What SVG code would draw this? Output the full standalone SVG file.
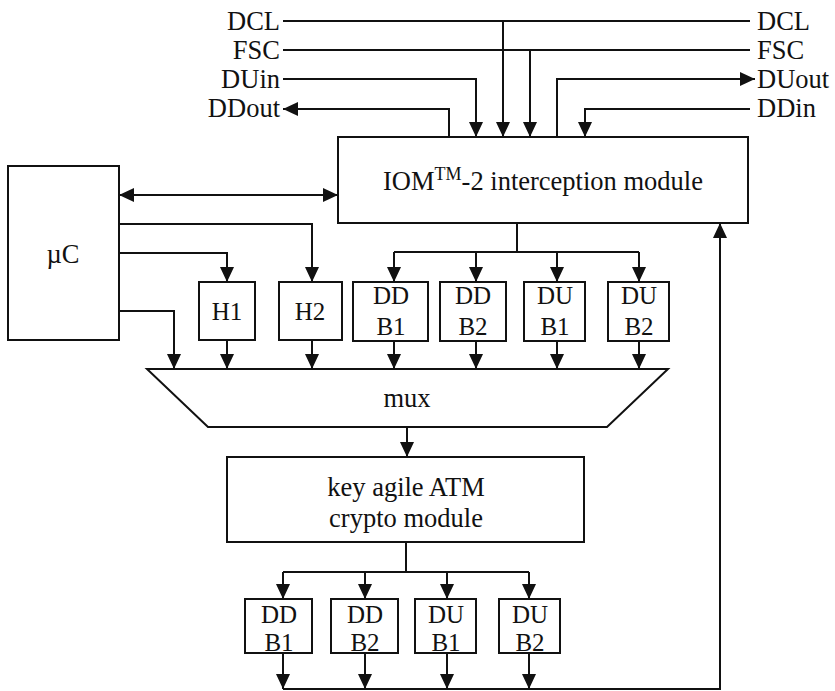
<svg xmlns="http://www.w3.org/2000/svg" width="835" height="691" viewBox="0 0 835 691">
<style>
.box{fill:#fff;stroke:#111;stroke-width:2}
.ln{fill:none;stroke:#111;stroke-width:2}
.arr{marker-end:url(#ah)}
text{font-family:"Liberation Serif","Times New Roman",serif;fill:#111;font-size:26.5px}
.c{text-anchor:middle}
.e{text-anchor:end}
.s{font-size:25px}
</style>
<defs>
<marker id="ah" markerUnits="userSpaceOnUse" markerWidth="15" markerHeight="14" refX="15" refY="7" orient="auto">
<path d="M0,0 L15,7 L0,14 z" fill="#111"/>
</marker>
<marker id="ahs" markerUnits="userSpaceOnUse" markerWidth="15" markerHeight="14" refX="0" refY="7" orient="auto">
<path d="M15,0 L0,7 L15,14 z" fill="#111"/>
</marker>
</defs>

<g id="connectors">
<path class="ln" d="M283,21 H750"/>
<path class="ln arr" d="M503,21 V137"/>
<path class="ln" d="M283,50 H750"/>
<path class="ln arr" d="M530,50 V137"/>
<path class="ln arr" d="M283,79 H476 V137"/>
<path class="ln arr" d="M557,137 V79 H755"/>
<path class="ln arr" d="M449,137 V109 H283"/>
<path class="ln arr" d="M750,109 H585 V137"/>
<path class="ln arr" d="M119,195 H338" marker-start="url(#ahs)"/>
<path class="ln arr" d="M119,224 H312 V282"/>
<path class="ln arr" d="M119,253 H227 V282"/>
<path class="ln arr" d="M119,311 H174 V369"/>
<path class="ln" d="M517,223 V252 M394,252 H639"/>
<path class="ln arr" d="M394,252 V282"/>
<path class="ln arr" d="M476,252 V282"/>
<path class="ln arr" d="M557,252 V282"/>
<path class="ln arr" d="M639,252 V282"/>
<path class="ln arr" d="M227,340 V369"/>
<path class="ln arr" d="M312,340 V369"/>
<path class="ln arr" d="M394,341 V369"/>
<path class="ln arr" d="M476,341 V369"/>
<path class="ln arr" d="M557,341 V369"/>
<path class="ln arr" d="M639,341 V369"/>
<path class="ln arr" d="M407,427 V457"/>
<path class="ln" d="M406,542 V572 M283,572 H529"/>
<path class="ln arr" d="M283,572 V599"/>
<path class="ln arr" d="M365,572 V599"/>
<path class="ln arr" d="M447,572 V599"/>
<path class="ln arr" d="M529,572 V599"/>
<path class="ln arr" d="M283,653 V689"/>
<path class="ln arr" d="M365,653 V689"/>
<path class="ln arr" d="M447,653 V689"/>
<path class="ln arr" d="M529,653 V689"/>
<path class="ln arr" d="M283,689 H720 V223"/>
</g>

<g id="labels">
<text class="e" x="280" y="30">DCL</text>
<text class="e" x="280" y="59">FSC</text>
<text class="e" x="280" y="88">DUin</text>
<text class="e" x="280" y="117">DDout</text>
<text x="757" y="30">DCL</text>
<text x="757" y="59">FSC</text>
<text x="757" y="88">DUout</text>
<text x="757" y="117">DDin</text>
</g>

<g id="iom">
<rect class="box" x="338" y="137" width="410" height="86"/>
<text class="c" x="543" y="190">IOM<tspan font-size="18" dy="-10">TM</tspan><tspan dy="10">-2 interception module</tspan></text>
</g>

<g id="uc">
<rect class="box" x="8" y="166" width="111" height="174"/>
<text class="c" x="63" y="263" font-size="28">µC</text>
</g>

<g id="h1"><rect class="box" x="199" y="282" width="56" height="58"/><text class="c s" x="227" y="320">H1</text></g>
<g id="h2"><rect class="box" x="279" y="282" width="63" height="58"/><text class="c s" x="310" y="320">H2</text></g>
<g id="ddb1"><rect class="box" x="353" y="282" width="75" height="59"/><text class="c s" x="391" y="304">DD</text><text class="c s" x="391" y="335">B1</text></g>
<g id="ddb2"><rect class="box" x="440" y="282" width="66" height="59"/><text class="c s" x="473" y="304">DD</text><text class="c s" x="473" y="335">B2</text></g>
<g id="dub1"><rect class="box" x="524" y="282" width="61" height="59"/><text class="c s" x="555" y="304">DU</text><text class="c s" x="555" y="335">B1</text></g>
<g id="dub2"><rect class="box" x="608" y="282" width="61" height="59"/><text class="c s" x="639" y="304">DU</text><text class="c s" x="639" y="335">B2</text></g>

<g id="mux">
<path class="box" d="M147,369 H668 L607,427 H208 Z"/>
<text class="c" x="407" y="407">mux</text>
</g>

<g id="crypto">
<rect class="box" x="227" y="457" width="357" height="85"/>
<text class="c" x="406" y="496">key agile ATM</text>
<text class="c" x="406" y="527">crypto module</text>
</g>

<g id="cddb1"><rect class="box" x="245" y="599" width="67" height="54"/><text class="c s" x="279" y="623">DD</text><text class="c s" x="279" y="651">B1</text></g>
<g id="cddb2"><rect class="box" x="331" y="599" width="67" height="54"/><text class="c s" x="365" y="623">DD</text><text class="c s" x="365" y="651">B2</text></g>
<g id="cdub1"><rect class="box" x="415" y="599" width="61" height="54"/><text class="c s" x="446" y="623">DU</text><text class="c s" x="446" y="651">B1</text></g>
<g id="cdub2"><rect class="box" x="499" y="599" width="61" height="54"/><text class="c s" x="530" y="623">DU</text><text class="c s" x="530" y="651">B2</text></g>
</svg>
